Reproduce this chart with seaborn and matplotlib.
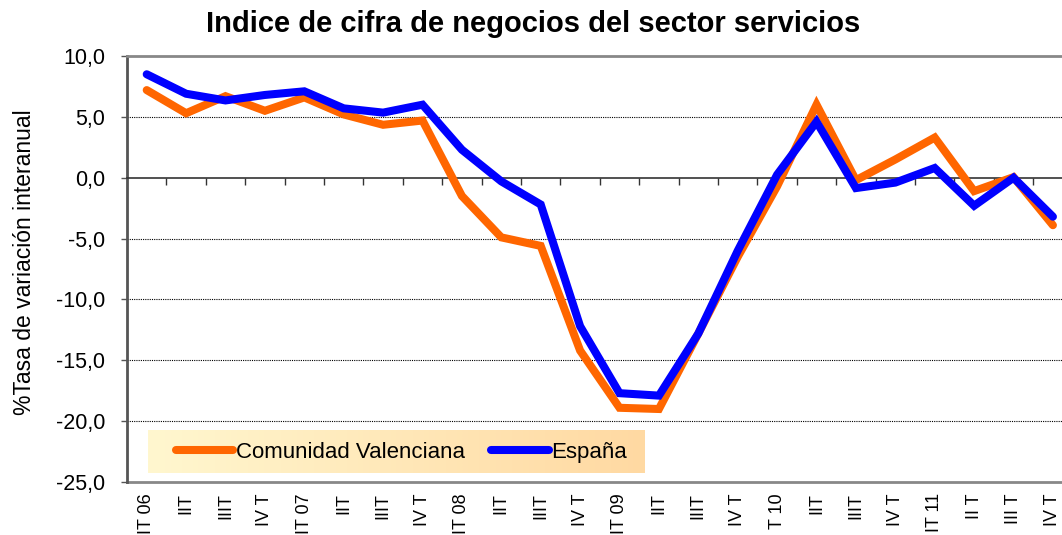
import numpy as np
import pandas as pd
import seaborn as sns
import matplotlib
matplotlib.use("Agg")
import matplotlib.pyplot as plt

# trimestres 2006-2011
periodos = ["IT 06", "IIT", "IIIT", "IV T", "IT 07", "IIT", "IIIT", "IV T",
            "IT 08", "IIT", "IIIT", "IV T", "IT 09", "IIT", "IIIT", "IV T",
            "T 10", "IIT", "IIIT", "IV T", "IT 11", "II T", "III T", "IV T"]

valenciana = [7.2, 5.3, 6.7, 5.5, 6.6, 5.2, 4.35, 4.7,
              -1.5, -4.9, -5.6, -14.2, -18.9, -19.0, -12.8, -6.5,
              -0.7, 6.0, -0.2, 1.5, 3.3, -1.1, 0.05, -3.9]

espana = [8.5, 6.9, 6.35, 6.8, 7.1, 5.7, 5.35, 6.0,
          2.3, -0.3, -2.2, -12.2, -17.7, -17.9, -12.8, -6.0,
          0.25, 4.6, -0.85, -0.4, 0.8, -2.3, 0.0, -3.2]

series = ["Comunidad Valenciana", "España"]
colores = ["#FF6600", "#0000FF"]
y_ticks = [10, 5, 0, -5, -10, -15, -20, -25]

df = pd.DataFrame({
    "idx": list(range(len(periodos))) * 2,
    "valor": valenciana + espana,
    "serie": [series[0]] * len(periodos) + [series[1]] * len(periodos),
})

sns.set_style("white")
plt.rcParams["font.family"] = ["Liberation Sans", "DejaVu Sans"]
plt.rcParams["text.color"] = "black"
plt.rcParams["xtick.color"] = "black"
plt.rcParams["ytick.color"] = "black"
plt.rcParams["axes.labelcolor"] = "black"

fig = plt.figure(figsize=(10.62, 5.35), dpi=100)
ax = fig.add_axes([0.1196, 0.099, 0.8904, 0.7963])

# fondo degradado de la leyenda
grad = np.linspace(0, 1, 256).reshape(1, -1)
cmap = matplotlib.colors.LinearSegmentedColormap.from_list("leg", ["#FFF7CF", "#FFD9A2"])
ax.imshow(grad, extent=[0.022, 0.547, 0.021, 0.12], transform=ax.transAxes,
          cmap=cmap, aspect="auto", zorder=3)

sns.lineplot(data=df, x="idx", y="valor", hue="serie", palette=colores,
             linewidth=5.8, sort=False, ax=ax, zorder=4,
             solid_capstyle="round", solid_joinstyle="miter")

ax.set_xlim(-0.5, len(periodos) - 0.5)
ax.set_ylim(-25, 10)

# rejilla
for v in y_ticks[1:-1]:
    if v != 0:
        ax.axhline(v, color="black", lw=0.8, ls=(0, (1, 1)), zorder=1)

ax.set_yticks(y_ticks)
ax.set_yticklabels([f"{v:.1f}".replace(".", ",") for v in y_ticks], fontsize=15.5)
ax.tick_params(axis="y", direction="out", length=4.5, width=1, color="#555555", left=True, pad=11)

# eje x en el cero con marcas entre categorias
ax.spines["bottom"].set_position(("data", 0))
ax.spines["bottom"].set_color("#333333")
ax.spines["bottom"].set_linewidth(1.2)
ax.set_xticks(np.arange(len(periodos) - 1) + 0.5)
ax.set_xticklabels([])
ax.tick_params(axis="x", direction="out", length=5, width=1, color="#333333", bottom=True)

ax.spines["left"].set_color("#555555")
ax.spines["left"].set_linewidth(2)
ax.spines["top"].set_color("#888888")
ax.spines["top"].set_linewidth(2)
ax.spines["right"].set_visible(False)

sec = ax.secondary_xaxis(0.0)
sec.set_xticks(range(len(periodos)))
sec.set_xticklabels(periodos, rotation=90, fontsize=13)
sec.tick_params(length=0, pad=8)
sec.spines["bottom"].set_color("#888888")
sec.spines["bottom"].set_linewidth(2)

ax.set_xlabel("")
ax.set_ylabel("%Tasa de variación interanual", fontsize=16.5)
ax.yaxis.set_label_coords(-0.096, 0.516)
fig.text(0.502, 0.955, "Indice de cifra de negocios del sector servicios",
         ha="center", va="center", fontsize=21, fontweight="bold")

ax.legend(loc="center left", bbox_to_anchor=(0.042, 0.07), ncol=2, frameon=False,
          fontsize=16, handlelength=2.6, handletextpad=0.1, columnspacing=1.2,
          borderaxespad=0)

fig.savefig("out.png", dpi=100)
